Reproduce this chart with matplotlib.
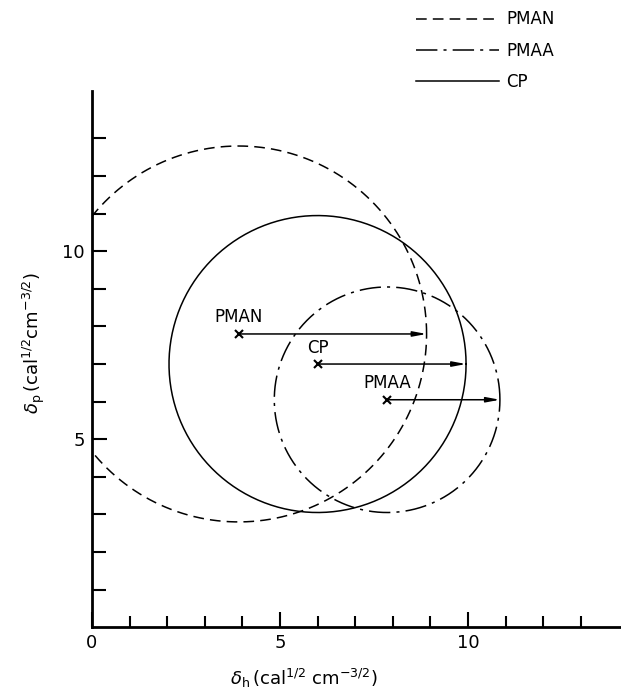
import numpy as np
import matplotlib
matplotlib.use('Agg')
import matplotlib.pyplot as plt
from matplotlib.ticker import FixedLocator

plt.rcParams['font.family'] = ['DejaVu Sans']
plt.rcParams['mathtext.fontset'] = 'dejavusans'

# solubility circles: centre (delta_h, delta_p) and radius
names = ['PMAN', 'PMAA', 'CP']
center_h = [3.9, 7.85, 6.0]
center_p = [7.8, 6.05, 7.0]
radius = [5.0, 3.0, 3.95]
styles = [(0, (7, 4)), (0, (14, 4, 2, 4)), '-']
plot_order = [0, 2, 1]


def draw():
    fig = plt.figure(figsize=(6.21, 6.93), dpi=100)
    ax = fig.add_axes([0.148, 0.095, 0.852, 0.7735])

    t = np.linspace(0, 2 * np.pi, 400)
    handles = {}
    for i in plot_order:
        h, = ax.plot(center_h[i] + radius[i] * np.cos(t),
                     center_p[i] + radius[i] * np.sin(t),
                     color='black', linewidth=1.1, linestyle=styles[i],
                     label=names[i])
        handles[i] = h
        # centre marker and radius arrow
        ax.plot(center_h[i], center_p[i], marker='x', color='black',
                markersize=6, markeredgewidth=1.5)
        ax.annotate('', xy=(center_h[i] + radius[i], center_p[i]),
                    xytext=(center_h[i], center_p[i]),
                    arrowprops=dict(arrowstyle='-|>,head_length=0.8,head_width=0.15',
                                    color='black', linewidth=1.1,
                                    shrinkA=0, shrinkB=0))
        ax.text(center_h[i], center_p[i] + 0.2, names[i], ha='center',
                va='bottom', fontsize=12)

    ax.set_xlim(0, 14.07)
    ax.set_ylim(0, 14.26)
    ax.xaxis.set_major_locator(FixedLocator([0, 5, 10]))
    ax.xaxis.set_minor_locator(FixedLocator([1, 2, 3, 4, 6, 7, 8, 9, 11, 12, 13]))
    ax.yaxis.set_major_locator(FixedLocator([5, 10]))
    ax.yaxis.set_minor_locator(FixedLocator([1, 2, 3, 4, 6, 7, 8, 9, 11, 12, 13]))
    ax.tick_params(which='both', direction='in', width=1.5, labelsize=13, pad=5)
    ax.tick_params(which='major', length=11)
    ax.tick_params(which='minor', length=8)
    ax.tick_params(axis='y', which='minor', length=10)
    for s in ['top', 'right']:
        ax.spines[s].set_visible(False)
    for s in ['left', 'bottom']:
        ax.spines[s].set_linewidth(2.0)

    ax.set_xlabel(r'$\delta_{\rm h}\,$(cal$^{1/2}$ cm$^{-3/2}$)', fontsize=13)
    ax.xaxis.set_label_coords(0.40, -0.075)
    ax.set_ylabel(r'$\delta_{\rm p}\,$(cal$^{1/2}$cm$^{-3/2}$)', fontsize=13)
    ax.yaxis.set_label_coords(-0.085, 0.53)

    ax.legend([handles[0], handles[1], handles[2]], ['PMAN', 'PMAA', 'CP'],
              loc='upper left', bbox_to_anchor=(0.670, 0.985),
              bbox_transform=fig.transFigure, frameon=False, fontsize=12,
              handlelength=5.0, handletextpad=0.4, labelspacing=0.8,
              borderpad=0, borderaxespad=0)

    fig.savefig('out.png', dpi=100)


draw()
